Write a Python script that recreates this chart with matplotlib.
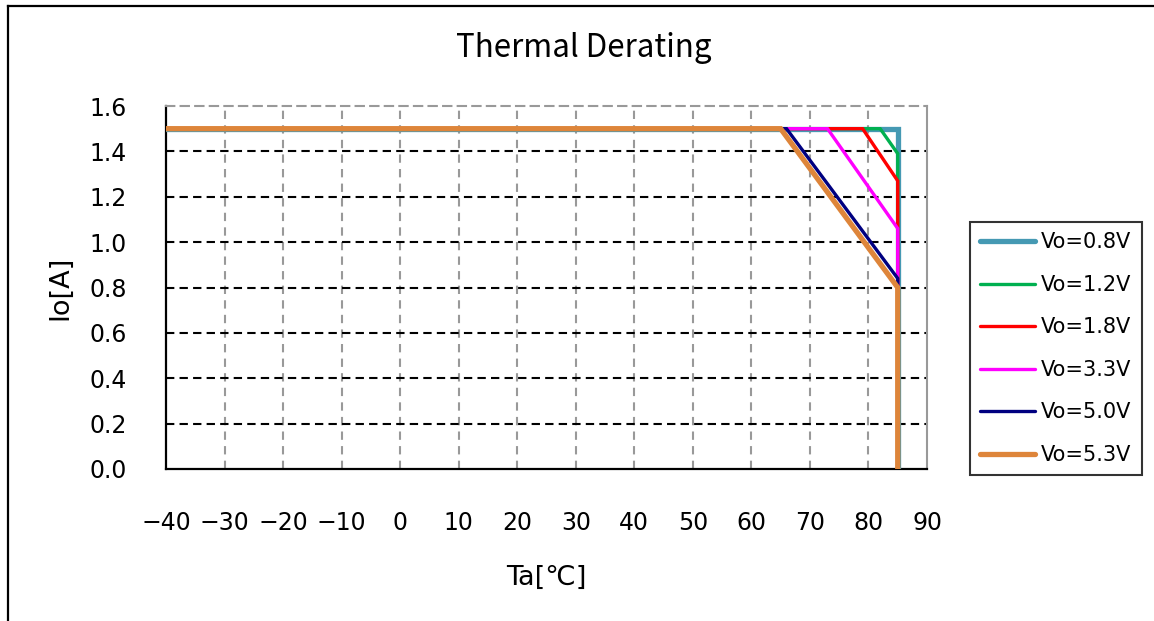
import matplotlib
matplotlib.use("Agg")
import matplotlib.pyplot as plt
from matplotlib.lines import Line2D

plt.rcParams['font.family'] = ['DejaVu Sans', 'Noto Sans CJK JP']

# Data
labels = ["Vo=0.8V", "Vo=1.2V", "Vo=1.8V", "Vo=3.3V", "Vo=5.0V", "Vo=5.3V"]
colors = ["#4599B3", "#00B050", "#FF0000", "#FF00FF", "#000080", "#DE853A"]
widths = [3.8, 2.4, 2.4, 2.4, 2.4, 3.8]
temp_start = -40
temp_knee = [85, 82, 79, 73, 66, 65]
temp_max = 85
current_max = 1.5
current_end = [1.5, 1.39, 1.27, 1.06, 0.84, 0.80]

xticks = list(range(-40, 91, 10))
yticks = [0.0, 0.2, 0.4, 0.6, 0.8, 1.0, 1.2, 1.4, 1.6]

W, H = 1154, 621
fig = plt.figure(figsize=(W / 100, H / 100), dpi=100)
ax = fig.add_axes([166 / W, 1 - 469 / H, (927 - 166) / W, (469 - 106) / H])

for lab, col, lw, kn, ie in zip(labels, colors, widths, temp_knee, current_end):
    xs = [temp_start, kn, temp_max, temp_max]
    ys = [current_max, current_max, ie, 0.0]
    ax.plot(xs, ys, color=col, lw=lw, label=lab, solid_capstyle='round',
            solid_joinstyle='miter', zorder=3)

ax.set_xlim(-40, 90)
ax.set_ylim(0, 1.6)
ax.set_xticks(xticks)
ax.set_yticks(yticks)
ax.set_yticklabels([f"{v:.1f}" for v in yticks])
ax.set_xticklabels([f"\u2212{abs(v)}" if v < 0 else str(v) for v in xticks])

# grid
for x in xticks[1:-1]:
    ax.axvline(x, color="#999999", lw=1.5, ls=(0, (4, 3)), zorder=1)
for y in yticks[1:-1]:
    ax.axhline(y, color="black", lw=1.5, ls=(0, (4, 2.5)), zorder=1)

ax.spines['left'].set_linewidth(1.6)
ax.spines['bottom'].set_linewidth(1.6)
ax.spines['right'].set_color("#999999")
ax.spines['right'].set_linewidth(1.5)
ax.spines['top'].set_color("#999999")
ax.spines['top'].set_linewidth(1.5)
ax.spines['top'].set_linestyle((0, (4, 3)))

ax.tick_params(axis='x', length=0, pad=30, labelsize=17)
ax.tick_params(axis='y', direction='in', length=4, width=1.2, pad=28, labelsize=17)

ax.set_xlabel("Ta[℃]", fontsize=19.5, labelpad=22)
ax.set_ylabel("Io[A]", fontsize=19.5, labelpad=12)
fig.text(584 / W, 1 - 48 / H, "Thermal Derating", fontsize=22.5, ha='center', va='center',
         family=['Noto Sans CJK JP', 'DejaVu Sans'])

leg = ax.legend(loc='upper left', bbox_to_anchor=(970 / W, 1 - 222 / H),
                bbox_transform=fig.transFigure, frameon=True, fancybox=False,
                edgecolor='black', fontsize=15, handlelength=2.6, labelspacing=1.08,
                borderpad=0.5, handletextpad=0.3, borderaxespad=0)
leg.get_frame().set_linewidth(1.5)

# figure border
fig.add_artist(Line2D([8 / W, 1], [1 - 6 / H, 1 - 6 / H], color='black', lw=1.6,
                      transform=fig.transFigure))
fig.add_artist(Line2D([8 / W, 8 / W], [0, 1 - 6 / H], color='black', lw=1.6,
                      transform=fig.transFigure))

fig.savefig("out.png", dpi=100)
